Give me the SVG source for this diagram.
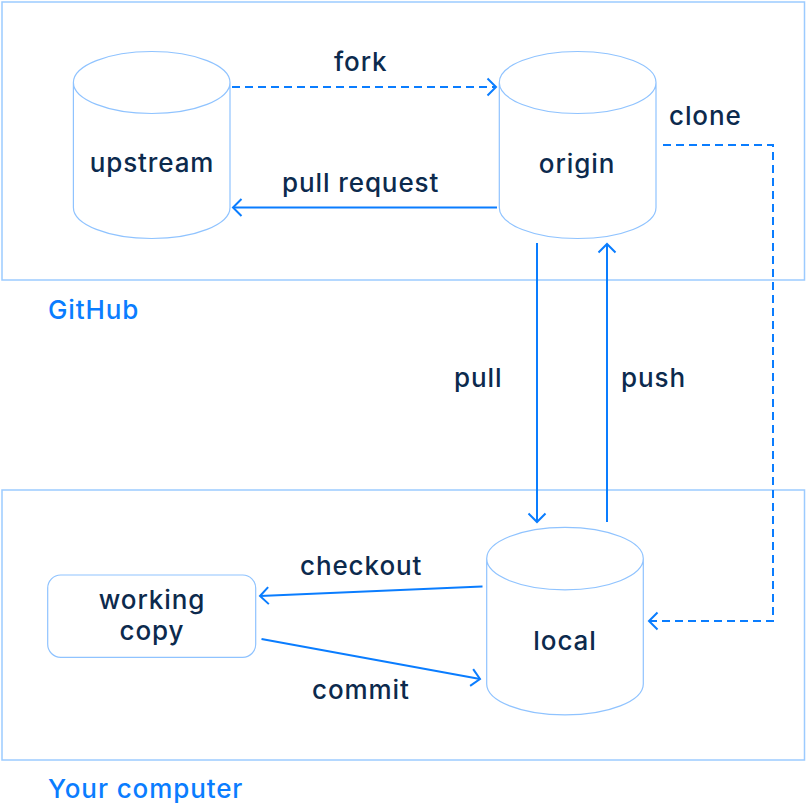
<svg xmlns="http://www.w3.org/2000/svg" width="807" height="806" viewBox="0 0 807 806">
<style>
.area{fill:none;stroke:#9ccbff;stroke-width:1.5}
.db{fill:#fff;stroke:#8fc3ff;stroke-width:1.2}
.lbl{font-family:Inter,"Liberation Sans",sans-serif;font-size:26px;font-weight:500;letter-spacing:0.9px;fill:#0c2a4d}
.grp{font-family:Inter,"Liberation Sans",sans-serif;font-size:26px;font-weight:500;letter-spacing:0.9px;fill:#0a7dff}
.c{text-anchor:middle}
.conn{fill:none;stroke:#0a7dff;stroke-width:2}
.dash{stroke-dasharray:8 5}
</style>
<defs>
<marker id="arr" markerUnits="userSpaceOnUse" markerWidth="20" markerHeight="20" viewBox="-10 -10 20 20" refX="0" refY="0" orient="auto">
<path d="M-8.5,-8.5 L0,0 L-8.5,8.5" fill="none" stroke="#0a7dff" stroke-width="2"/>
</marker>
</defs>
<rect width="807" height="806" fill="#fff"/>
<g id="github">
<rect class="area" x="2" y="2" width="802.5" height="278"/>
<text class="grp" x="48" y="319">GitHub</text>
</g>
<g id="computer">
<rect class="area" x="2" y="490" width="802.5" height="270"/>
<text class="grp" x="48" y="798">Your computer</text>
</g>
<g id="connectors">
<path class="conn dash" d="M232,87 H496" marker-end="url(#arr)"/>
<path class="conn" d="M497,207.5 H233" marker-end="url(#arr)"/>
<path class="conn dash" d="M663,145 H773 V621 H649" marker-end="url(#arr)"/>
<path class="conn" d="M537,243 V522" marker-end="url(#arr)"/>
<path class="conn" d="M607,522 V244" marker-end="url(#arr)"/>
<path class="conn" d="M482.5,586.5 H482 L260,596" marker-end="url(#arr)"/>
<path class="conn" d="M261.5,639 L480,679" marker-end="url(#arr)"/>
<text class="lbl" x="334" y="71">fork</text>
<text class="lbl" x="282" y="192">pull request</text>
<text class="lbl" x="669" y="125">clone</text>
<text class="lbl" x="454" y="387">pull</text>
<text class="lbl" x="621" y="387">push</text>
<text class="lbl" x="300" y="575">checkout</text>
<text class="lbl" x="312" y="699">commit</text>
</g>
<g id="upstream">
<path class="db" d="M73.4,82.5 A78.3,31 0 0 1 230,82.5 V207.5 A78.3,31 0 0 1 73.4,207.5 Z M73.4,82.5 A78.3,31 0 0 0 230,82.5"/>
<text class="lbl c" x="152" y="172">upstream</text>
</g>
<g id="origin">
<path class="db" d="M499.3,82.5 A78.3,31 0 0 1 656,82.5 V207.5 A78.3,31 0 0 1 499.3,207.5 Z M499.3,82.5 A78.3,31 0 0 0 656,82.5"/>
<text class="lbl c" x="577" y="173">origin</text>
</g>
<g id="local">
<path class="db" d="M486.7,558.6 A78.3,31.3 0 0 1 643.3,558.6 V684 A78.3,31 0 0 1 486.7,684 Z M486.7,558.6 A78.3,31.3 0 0 0 643.3,558.6"/>
<text class="lbl c" x="565" y="650">local</text>
</g>
<g id="working-copy">
<rect class="db" x="47.7" y="575" width="208" height="82.3" rx="13"/>
<text class="lbl c" x="152" y="609">working</text>
<text class="lbl c" x="152" y="640">copy</text>
</g>
</svg>
